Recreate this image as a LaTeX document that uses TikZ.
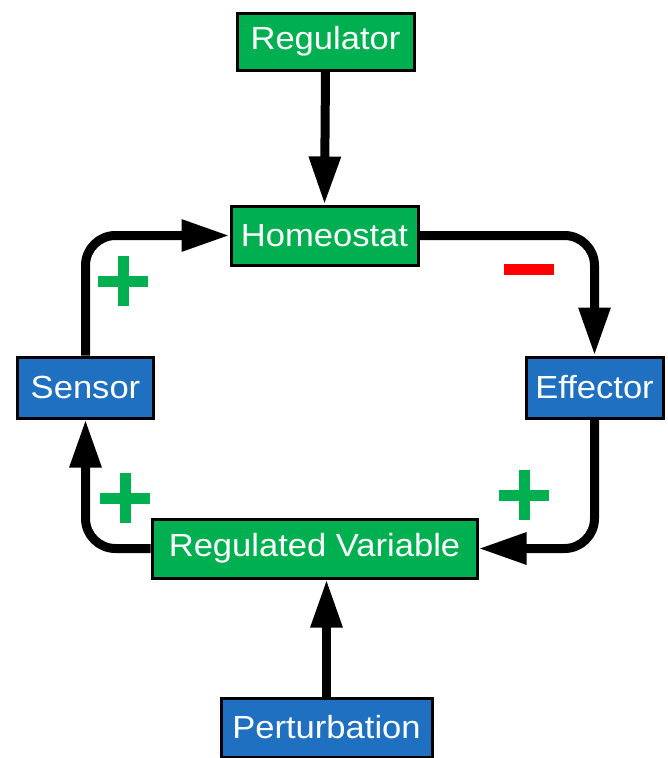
\documentclass[tikz,border=0pt]{standalone}
\usepackage{fontspec}
\setmainfont{Liberation Sans}[FakeStretch=1.08]
\usetikzlibrary{arrows.meta}
\definecolor{boxgreen}{RGB}{0,176,80}
\definecolor{boxblue}{RGB}{31,112,193}
\definecolor{minusred}{RGB}{255,0,0}
\begin{document}
\begin{tikzpicture}[x=1pt,y=-1pt,
  box/.style={draw=black,line width=3pt,inner sep=0pt,text=white,
    font=\fontsize{32}{36}\selectfont},
  gbox/.style={box,fill=boxgreen},
  bbox/.style={box,fill=boxblue},
  conn/.style={line width=9pt,rounded corners=30pt,
    -{Triangle[length=48pt,width=30pt]}},
  plusbar/.style={line width=11pt,draw=boxgreen},
]
\useasboundingbox[fill=white] (0,0) rectangle (667,758);
\node[gbox,minimum width=177pt,minimum height=57pt] (reg) at (325.5,41.5) {\raisebox{-1.5pt}{Regulator}};
\node[gbox,minimum width=187pt,minimum height=59pt] (homeo) at (324.5,235.5) {\raisebox{-1.5pt}{Homeostat}};
\node[bbox,minimum width=136pt,minimum height=61pt] (sensor) at (85.5,387.5) {\raisebox{-1.5pt}{Sensor}};
\node[bbox,minimum width=137pt,minimum height=61pt] (eff) at (594.5,387.5) {\raisebox{-1.5pt}{Effector}};
\node[gbox,minimum width=325pt,minimum height=59pt] (rv) at (314.5,548.5) {\raisebox{-1.5pt}{Regulated Variable}};
\node[bbox,minimum width=211pt,minimum height=59pt] (pert) at (326.5,727.5) {\raisebox{-1.5pt}{Perturbation}};

\draw[conn] (sensor.north) |- (homeo.west);
\draw[conn] (homeo.east) -| (eff.north);
\draw[conn] (eff.south) |- (rv.east);
\draw[conn] (rv.west) -| (sensor.south);
\draw[conn] (reg.south) -- (homeo.north);
\draw[conn] (pert.north) -- (pert.north |- rv.south);

% signs
\draw[plusbar] (98,281) -- (148,281) (123,256) -- (123,306);
\draw[plusbar] (100,498) -- (150,498) (125,473) -- (125,523);
\draw[plusbar] (499,495) -- (549,495) (524,470) -- (524,520);
\draw[line width=11pt,draw=minusred] (504,269) -- (554,269);
\end{tikzpicture}
\end{document}
